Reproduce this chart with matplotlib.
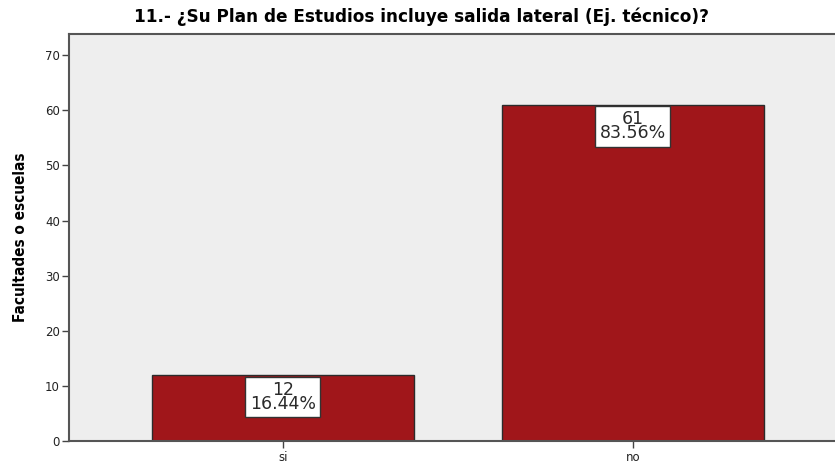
import matplotlib
matplotlib.use("Agg")
import matplotlib.pyplot as plt

# data
categories = ["si", "no"]
counts = [12, 61]
percents = [16.44, 83.56]
yticks = [0, 10, 20, 30, 40, 50, 60, 70]

title = "11.- ¿Su Plan de Estudios incluye salida lateral (Ej. técnico)?"
ylabel = "Facultades o escuelas"

plt.rcParams['font.family'] = ['DejaVu Sans']

fig = plt.figure(figsize=(8.35, 4.66), dpi=100)
ax = fig.add_axes([0.0826, 0.0526, 0.917, 0.8745])
ax.set_facecolor("#eeeeee")

x = list(range(len(categories)))
ax.bar(x, counts, width=0.75, color="#a0161a", edgecolor="#2b2b2b", linewidth=1.0, zorder=2)

pad = 0.25
fs = 12.5
for xi, c, p in zip(x, counts, percents):
    ax.annotate("%d\n%.2f%%" % (c, p), xy=(xi, c), xytext=(0, -pad * fs - 1), textcoords="offset points",
                ha="center", va="top", fontsize=fs, color="#2a2a2a", linespacing=0.72,
                bbox=dict(boxstyle="square,pad=%.2f" % pad, fc="white", ec="#333333", lw=1.0), zorder=3)

ax.set_xlim(-0.611, 1.577)
ax.set_ylim(0, 73.8)
ax.set_xticks(x)
ax.set_xticklabels(categories, fontsize=8.5, color="#222222")
ax.set_yticks(yticks)
ax.set_yticklabels([str(t) for t in yticks], fontsize=8.5, color="#222222")
ax.tick_params(axis="both", direction="out", length=5, width=1, color="#444444", pad=1.5)

for side in ["left", "bottom", "top"]:
    ax.spines[side].set_color("#555555")
    ax.spines[side].set_linewidth(1.5)
ax.spines["right"].set_visible(False)

ax.set_ylabel(ylabel, fontsize=11, fontweight="bold", fontstretch="condensed", labelpad=12)

# title sits a bit left of the axes centre in the export
fig.text(0.505, 0.965, title, ha="center", va="center", fontsize=12.2, fontweight="bold")

fig.savefig("out.png", dpi=100)
